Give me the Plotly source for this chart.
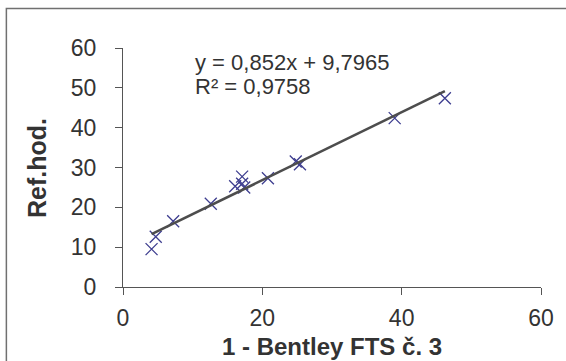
import numpy as np
import plotly.graph_objects as go

# Measured pairs: Bentley FTS reading vs. reference value
bentley = [4.1, 4.7, 7.2, 12.6, 16.1, 17.1, 17.4, 17.1, 20.8, 24.8, 25.4, 39.0, 46.2]
ref_hod = [9.5, 12.6, 16.5, 20.9, 25.3, 25.9, 25.0, 27.7, 27.3, 31.5, 30.8, 42.4, 47.4]

# Linear trend reported on the chart
slope = 0.852
intercept = 9.7965
r_squared = 0.9758

x_ticks = [0, 20, 40, 60]
y_ticks = [0, 10, 20, 30, 40, 50, 60]

FONT = "Liberation Sans, Arial, sans-serif"
AXIS_COLOR = "#555555"
TEXT_COLOR = "#333333"


def comma(v):
    return f"{v}".replace(".", ",")


trend_x = np.array([min(bentley), max(bentley)])
trend_y = slope * trend_x + intercept

fig = go.Figure()
fig.add_trace(go.Scatter(
    x=bentley, y=ref_hod, mode="markers",
    marker=dict(symbol="x-thin", size=12,
                line=dict(color="#3d3d8f", width=1.3)),
    showlegend=False, hoverinfo="x+y",
))
fig.add_trace(go.Scatter(
    x=trend_x, y=trend_y, mode="lines",
    line=dict(color="#4d4d4d", width=2.6),
    showlegend=False, hoverinfo="skip",
))

axis_common = dict(
    showgrid=False, zeroline=False, showline=True,
    linecolor=AXIS_COLOR, linewidth=1,
    ticks="outside", tickcolor=AXIS_COLOR, ticklen=7, tickwidth=1,
    tickfont=dict(family=FONT, size=23, color=TEXT_COLOR),
)

fig.update_layout(
    width=566, height=361,
    margin=dict(l=123, r=23, t=48, b=74),
    paper_bgcolor="white", plot_bgcolor="white",
    font=dict(family=FONT, color=TEXT_COLOR),
    xaxis=dict(range=[0, 60], tickvals=x_ticks, ticklabelstandoff=3,
               **axis_common),
    yaxis=dict(range=[0, 60], tickvals=y_ticks, ticklabelstandoff=14,
               **axis_common),
    annotations=[
        dict(text="<b>1 - Bentley FTS č. 3</b>", xref="paper", yref="paper",
             x=0.5, y=-0.25, xanchor="center", yanchor="middle",
             showarrow=False, font=dict(family=FONT, size=24, color=TEXT_COLOR)),
        dict(text="<b>Ref.hod.</b>", xref="paper", yref="paper",
             x=-0.207, y=0.5, xanchor="center", yanchor="middle", textangle=-90,
             showarrow=False, font=dict(family=FONT, size=25, color=TEXT_COLOR)),
        dict(text=f"y = {comma(slope)}x + {comma(intercept)}", xref="paper", yref="paper",
             x=0.167, y=0.941, xanchor="left", yanchor="middle",
             showarrow=False, font=dict(family=FONT, size=22, color=TEXT_COLOR)),
        dict(text=f"R² = {comma(r_squared)}", xref="paper", yref="paper",
             x=0.167, y=0.837, xanchor="left", yanchor="middle",
             showarrow=False, font=dict(family=FONT, size=22, color=TEXT_COLOR)),
    ],
    shapes=[
        dict(type="rect", xref="paper", yref="paper",
             x0=-0.279, x1=1.08, y0=-0.4, y1=1.165,
             line=dict(color="#707070", width=1.5), fillcolor="rgba(0,0,0,0)",
             layer="below"),
    ],
)

fig.write_html("out.html")
